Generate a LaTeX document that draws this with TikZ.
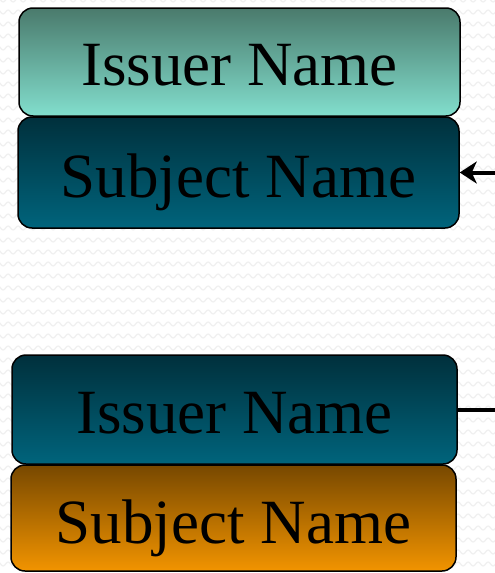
\documentclass[tikz,border=0pt]{standalone}
\usepackage{fontspec}
\setmainfont{Liberation Serif}
\usetikzlibrary{arrows.meta, decorations.pathmorphing}
\definecolor{tealtop}{HTML}{4A7A6C}
\definecolor{tealbot}{HTML}{82DECD}
\definecolor{deeptop}{HTML}{00303C}
\definecolor{deepbot}{HTML}{00647C}
\definecolor{ambertop}{HTML}{774800}
\definecolor{amberbot}{HTML}{F29400}
\definecolor{wavegray}{HTML}{F0F0F0}
\tikzset{
  box/.style={draw=black, line width=1.5pt, rounded corners=14pt, inner sep=0pt},
  label/.style={font=\fontsize{63}{70}\selectfont, anchor=base, text=black},
  link/.style={line width=4pt, draw=black},
  wave/.style={wavegray, line width=1.2pt, decorate,
    decoration={snake, segment length=10pt, amplitude=2pt}}
}
\begin{document}
\begin{tikzpicture}[x=1pt, y=-1pt]
  \useasboundingbox (0,0) rectangle (495,573);
  \fill[white] (0,0) rectangle (495,573);
  % faint zigzag backdrop
  \foreach \r in {0,12,...,576}{
    \draw[wave] (-5,\r) -- (505,\r);
  }
  % certificate blocks
  \node[box, top color=tealtop, bottom color=tealbot,
        minimum width=441pt, minimum height=108pt] (iss1) at (239.5,62) {};
  \node[box, top color=deeptop, bottom color=deepbot,
        minimum width=441pt, minimum height=111pt] (sub1) at (238.5,172.5) {};
  \node[box, top color=deeptop, bottom color=deepbot,
        minimum width=445pt, minimum height=109pt] (iss2) at (234.5,409.5) {};
  \node[box, top color=ambertop, bottom color=amberbot,
        minimum width=445pt, minimum height=106pt] (sub2) at (233.5,518) {};
  % labels
  \node[label] (t1) at (239.5,85) {Issuer Name};
  \node[label] (t2) at (238.5,197) {Subject Name};
  \node[label] (t3) at (234.5,433) {Issuer Name};
  \node[label] (t4) at (233.5,543) {Subject Name};
  % connectors leaving the frame
  \coordinate (inR) at (495,172.5);
  \coordinate (outR) at (495,409.5);
  \draw[link, -{Stealth[length=17pt, width=22pt, inset=5pt]}] (inR) -- (sub1.east);
  \draw[link] (iss2.east) -- (outR);
\end{tikzpicture}
\end{document}
